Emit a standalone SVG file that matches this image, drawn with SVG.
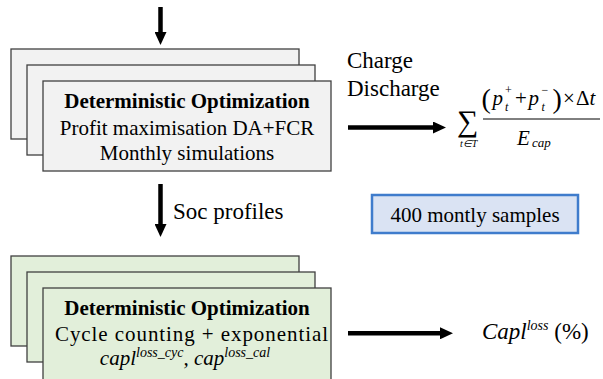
<svg xmlns="http://www.w3.org/2000/svg" width="603" height="379" viewBox="0 0 603 379">
<defs>
<style>
.t{font-family:'Liberation Serif','Times New Roman',serif;fill:#000}
.b{font-weight:bold}
.i{font-style:italic}
.gray{fill:#f2f2f2;stroke:#404040;stroke-width:1.3}
.green{fill:#e2efda;stroke:#404040;stroke-width:1.3}
.arr{stroke:#000;stroke-width:4.5;fill:none;marker-end:url(#ah)}
</style>
<marker id="ah" markerUnits="userSpaceOnUse" markerWidth="13" markerHeight="12" viewBox="0 0 13 12" refX="0" refY="6" orient="auto">
<path d="M0,0 L13,6 L0,12 z" fill="#000"/>
</marker>
</defs>
<rect width="603" height="379" fill="#fff"/>

<g id="connectors">
<line class="arr" x1="160.5" y1="7" x2="160.5" y2="32"/>
<line class="arr" x1="160.5" y1="184" x2="160.5" y2="224"/>
<line class="arr" x1="348" y1="127.5" x2="433" y2="127.5"/>
<line class="arr" x1="348" y1="333.3" x2="440" y2="333.3"/>
<text class="t" x="347" y="68" font-size="23">Charge</text>
<text class="t" x="347" y="96" font-size="23">Discharge</text>
<text class="t" x="173" y="219" font-size="23">Soc profiles</text>
</g>

<g id="node-da-fcr">
<rect class="gray" x="11" y="49" width="288" height="90"/>
<rect class="gray" x="27" y="65" width="288" height="90"/>
<rect class="gray" x="43" y="81" width="288" height="90"/>
<text class="t b" x="187" y="108" font-size="21" text-anchor="middle">Deterministic Optimization</text>
<text class="t" x="187" y="135" font-size="21" text-anchor="middle">Profit maximisation DA+FCR</text>
<text class="t" x="187" y="160" font-size="21" text-anchor="middle">Monthly simulations</text>
</g>

<g id="node-degradation">
<rect class="green" x="11" y="256" width="288" height="90"/>
<rect class="green" x="27" y="272" width="288" height="90"/>
<rect class="green" x="43" y="288" width="288" height="96"/>
<text class="t b" x="187" y="315" font-size="21" text-anchor="middle">Deterministic Optimization</text>
<text class="t" x="55" y="341" font-size="21" textLength="273" lengthAdjust="spacing">Cycle counting + exponential</text>
<text class="t i" x="185" y="365" font-size="21" text-anchor="middle">capl<tspan dy="-8" font-size="14">loss_cyc</tspan><tspan dy="8">, cap</tspan><tspan dy="-8" font-size="14">loss_cal</tspan></text>
</g>

<g id="node-samples">
<rect x="372" y="195" width="206" height="38" fill="#dae3f3" stroke="#3f7ccc" stroke-width="2.5"/>
<text class="t" x="475" y="222" font-size="21" text-anchor="middle">400 montly samples</text>
</g>

<g id="node-formula">
<text class="t" x="457" y="131" font-size="30">∑</text>
<text class="t i" x="460" y="147" font-size="10">t∈T</text>
<line x1="483" y1="119" x2="600" y2="119" stroke="#000" stroke-width="1"/>
<text class="t" x="481.5" y="108" font-size="28">(</text>
<text class="t i" x="492.5" y="105" font-size="21">p</text>
<text class="t" x="505" y="94" font-size="12">+</text>
<text class="t i" x="505" y="111" font-size="12">t</text>
<text class="t" x="515" y="105" font-size="21">+</text>
<text class="t i" x="528.5" y="105" font-size="21">p</text>
<text class="t" x="541.5" y="94" font-size="12">−</text>
<text class="t i" x="541.5" y="111" font-size="12">t</text>
<text class="t" x="552.5" y="108" font-size="28">)</text>
<text class="t" x="563" y="105" font-size="21">×</text>
<text class="t" x="576" y="105" font-size="21">Δ<tspan class="i">t</tspan></text>
<text class="t i" x="517" y="145" font-size="21">E</text>
<text class="t i" x="532" y="147" font-size="13">cap</text>
</g>

<g id="node-caploss">
<text class="t" x="482" y="339" font-size="23"><tspan class="i">Capl</tspan><tspan class="i" dy="-9" font-size="14">loss</tspan><tspan dy="9"> (%)</tspan></text>
</g>
</svg>
